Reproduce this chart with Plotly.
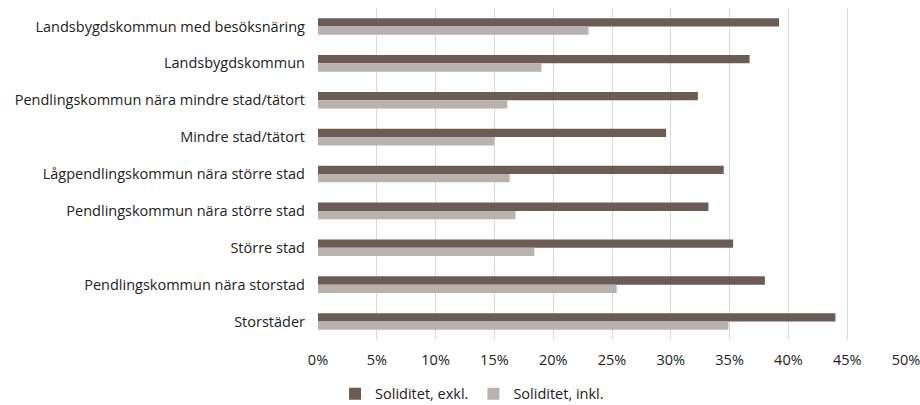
import plotly.graph_objects as go

categories = [
    "Landsbygdskommun med besöksnäring",
    "Landsbygdskommun",
    "Pendlingskommun nära mindre stad/tätort",
    "Mindre stad/tätort",
    "Lågpendlingskommun nära större stad",
    "Pendlingskommun nära större stad",
    "Större stad",
    "Pendlingskommun nära storstad",
    "Storstäder",
]
soliditet_exkl = [39.2, 36.7, 32.3, 29.6, 34.5, 33.2, 35.3, 38.0, 44.0]
soliditet_inkl = [23.0, 19.0, 16.1, 15.0, 16.3, 16.8, 18.4, 25.4, 34.9]
tick_values = [0, 5, 10, 15, 20, 25, 30, 35, 40, 45, 50]
tick_labels = [f"{v}%" for v in tick_values]

FONT = "Open Sans"
TEXT = "#222222"
SIZE = 14.5

fig = go.Figure()
fig.add_trace(go.Bar(
    y=categories, x=soliditet_exkl, orientation="h",
    name="Soliditet, exkl.", marker=dict(color="#6b5d56", line=dict(width=0)),
))
fig.add_trace(go.Bar(
    y=categories, x=soliditet_inkl, orientation="h",
    name="Soliditet, inkl.", marker=dict(color="#bab2ae", line=dict(width=0)),
))

fig.update_layout(
    width=920, height=405,
    margin=dict(l=318, r=14, t=8, b=64.5, autoexpand=False),
    paper_bgcolor="white", plot_bgcolor="white",
    barmode="group", bargap=0.55, bargroupgap=0,
    font=dict(family=FONT, size=SIZE, color=TEXT),
    legend=dict(
        orientation="h", x=0.262, xanchor="center", y=-0.162, yanchor="middle",
        font=dict(family=FONT, size=SIZE, color=TEXT),
        traceorder="normal", itemwidth=30,
    ),
    xaxis=dict(
        range=[0, 50], tickvals=tick_values, ticktext=tick_labels,
        showgrid=True, gridcolor="#d9d9d9", gridwidth=1,
        zeroline=False, showline=False, ticks="", ticklabelstandoff=9,
        ticklabeloverflow="allow",
        tickfont=dict(family=FONT, size=SIZE, color=TEXT),
    ),
    yaxis=dict(
        autorange="reversed", showgrid=False, zeroline=False,
        showline=False, ticks="", ticklabelstandoff=12,
        tickfont=dict(family=FONT, size=SIZE, color=TEXT),
    ),
)

fig.write_html("out.html")
